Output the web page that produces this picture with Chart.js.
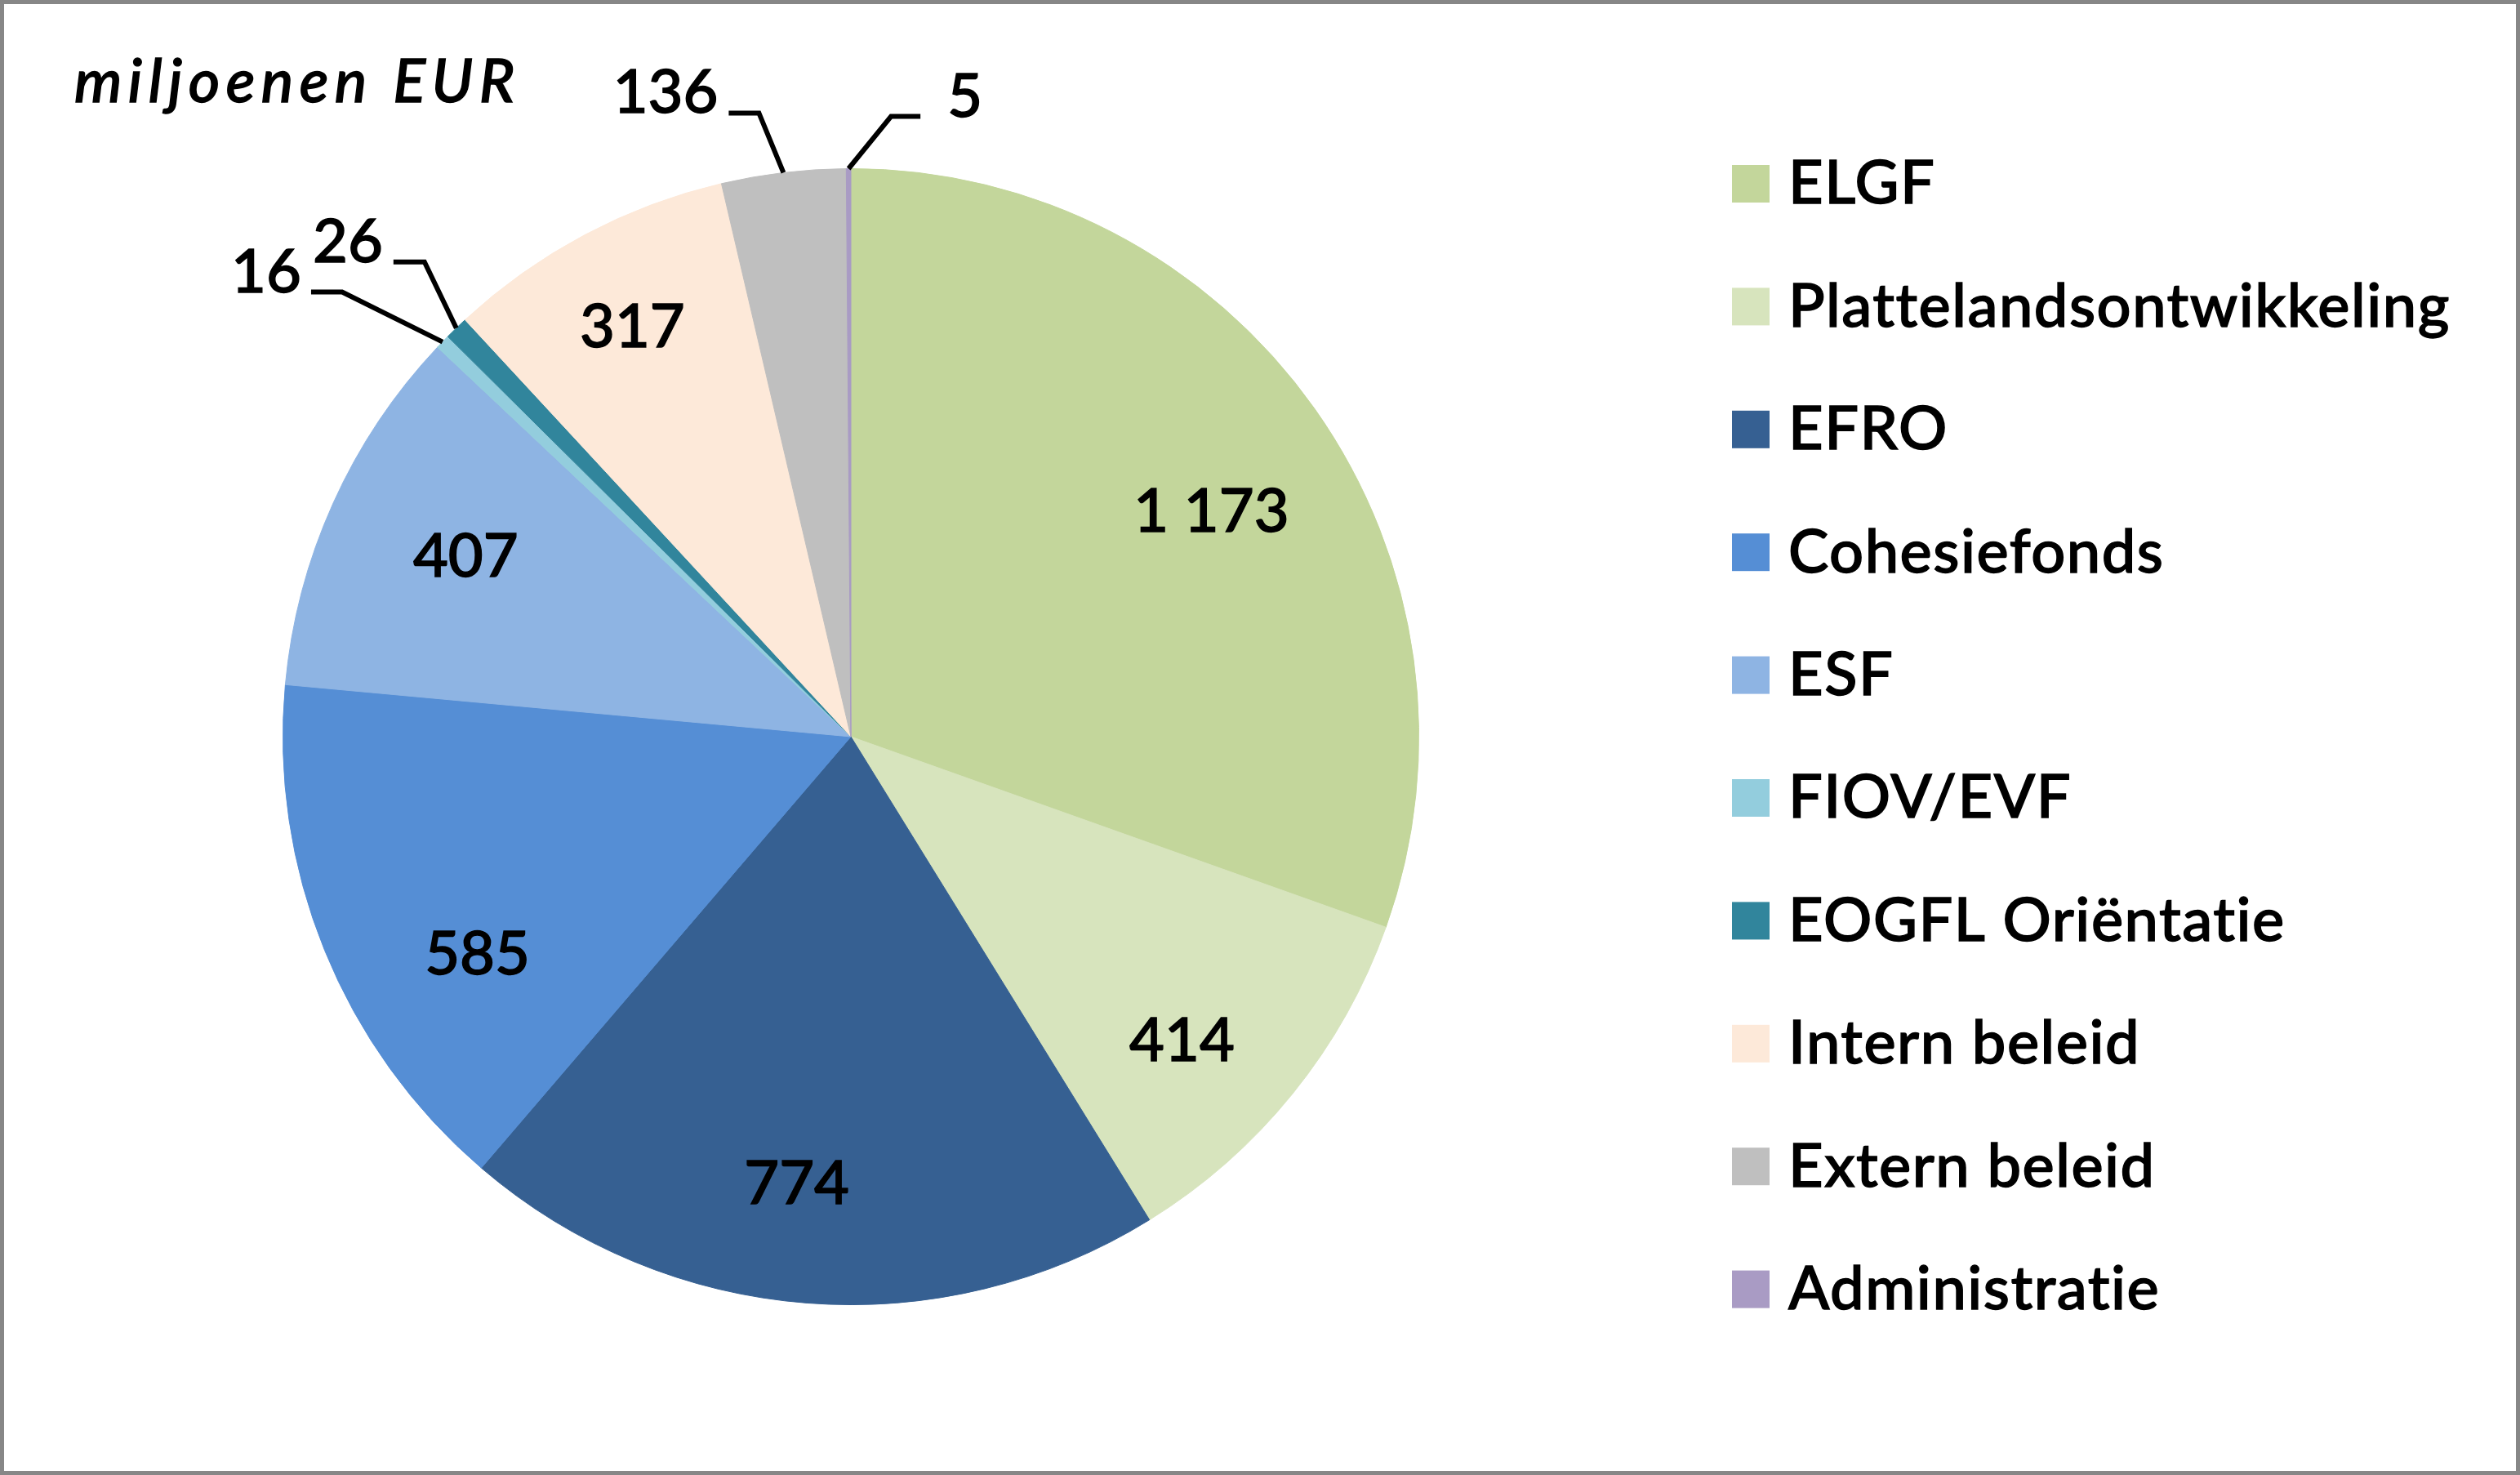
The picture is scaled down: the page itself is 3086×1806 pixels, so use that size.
<!DOCTYPE html>
<html>
<head>
<meta charset="utf-8">
<script src="https://cdn.jsdelivr.net/npm/chart.js@4.4.1/dist/chart.umd.min.js"></script>
<style>
html,body{margin:0;padding:0;background:#fff;overflow:hidden;}
#wrap{position:absolute;left:0;top:0;width:3086px;height:1806px;}
canvas{display:block;}
</style>
</head>
<body>
<div id="wrap"><canvas id="c" width="3086" height="1806"></canvas></div>
<script>
// ---- data ----
const categories = ['ELGF','Plattelandsontwikkeling','EFRO','Cohesiefonds','ESF','FIOV/EVF','EOGFL Oriëntatie','Intern beleid','Extern beleid','Administratie'];
const values = [1173, 414, 774, 585, 407, 16, 26, 317, 136, 5];
const valueLabels = ['1 173','414','774','585','407','16','26','317','136','5'];
const unitLabel = 'miljoenen EUR';

// ---- styles ----
const sliceColors = ['#C3D69B','#D7E4BD','#366092','#558ED5','#8EB4E3','#93CDDD','#31859C','#FDE9D9','#BFBFBF','#A99BC4'];
const FONT_FAMILY = 'Lato, "Open Sans", sans-serif';
const FONT_WEIGHT = '500';
const FONT_PX = 74;
const CAP = 0.716; // cap-height ratio of the font
const TEXT_STROKE = 1.4;

// inside-label placement: fraction of radius, angular tweak (deg, clockwise)
const insideLabel = {
  0: {f: 0.75, d: 3},
  1: {f: 0.79, d: 3.5},
  2: {f: 0.79, d: 2.5},
  3: {f: 0.76, d: -8},
  4: {f: 0.75, d: 1},
  7: {f: 0.82, d: 0}
};
// outside labels with leader lines: elbow offset from arc edge, horizontal run, text gap
const leaderLabel = {
  5: {ex: -123, ey: -61, run: -38, gap: 12},
  6: {ex: -39, ey: -81, run: -38, gap: 13},
  8: {ex: -30, ey: -73, run: -37, gap: 13},
  9: {ex: 52, ey: -64, run: 36, gap: 33}
};

function boldText(ctx, s, x, y) {
  ctx.fillText(s, x, y);
  ctx.strokeText(s, x, y);
}

const framePlugin = {
  id: 'frame',
  beforeDraw(chart) {
    const ctx = chart.ctx;
    ctx.save();
    ctx.fillStyle = '#ffffff';
    ctx.fillRect(0, 0, chart.width, chart.height);
    ctx.restore();
  },
  afterDraw(chart) {
    const ctx = chart.ctx;
    ctx.save();
    ctx.strokeStyle = '#878787';
    ctx.lineWidth = 5;
    ctx.strokeRect(2.5, 2.5, chart.width - 5, chart.height - 5);
    ctx.restore();
  }
};

const labelPlugin = {
  id: 'pieLabels',
  afterDatasetsDraw(chart) {
    const ctx = chart.ctx;
    const meta = chart.getDatasetMeta(0);
    ctx.save();
    ctx.font = FONT_WEIGHT + ' ' + FONT_PX + 'px ' + FONT_FAMILY;
    ctx.fillStyle = '#000';
    ctx.textBaseline = 'alphabetic';
    const half = FONT_PX * CAP / 2;
    meta.data.forEach((arc, i) => {
      const p = arc.getProps(['x','y','startAngle','endAngle','outerRadius'], true);
      const mid = (p.startAngle + p.endAngle) / 2;
      const lbl = chart.data.datasets[0].labelText[i];
      ctx.strokeStyle = '#000';
      if (insideLabel[i]) {
        const c = insideLabel[i];
        const a = mid + c.d * Math.PI / 180;
        const tx = p.x + c.f * p.outerRadius * Math.cos(a);
        const ty = p.y + c.f * p.outerRadius * Math.sin(a);
        ctx.textAlign = 'center';
        ctx.lineWidth = TEXT_STROKE;
        boldText(ctx, lbl, tx, ty + half);
      } else if (leaderLabel[i]) {
        const c = leaderLabel[i];
        const sx = p.x + p.outerRadius * Math.cos(mid);
        const sy = p.y + p.outerRadius * Math.sin(mid);
        const ex = sx + c.ex, ey = sy + c.ey;
        const hx = ex + c.run;
        ctx.beginPath();
        ctx.moveTo(sx, sy);
        ctx.lineTo(ex, ey);
        ctx.lineTo(hx, ey);
        ctx.lineWidth = 6;
        ctx.lineJoin = 'miter';
        ctx.stroke();
        ctx.lineWidth = TEXT_STROKE;
        if (c.run < 0) {
          ctx.textAlign = 'right';
          boldText(ctx, lbl, hx - c.gap, ey);
        } else {
          ctx.textAlign = 'left';
          boldText(ctx, lbl, hx + c.gap, ey);
        }
      }
    });
    ctx.restore();
  }
};

const legendPlugin = {
  id: 'sideLegend',
  afterDraw(chart) {
    const ctx = chart.ctx;
    const ds = chart.data.datasets[0];
    ctx.save();
    ctx.font = FONT_WEIGHT + ' ' + FONT_PX + 'px ' + FONT_FAMILY;
    ctx.letterSpacing = '1.5px';
    ctx.fillStyle = '#000';
    ctx.strokeStyle = '#000';
    ctx.lineWidth = TEXT_STROKE;
    ctx.textAlign = 'left';
    ctx.textBaseline = 'alphabetic';
    const x0 = 2121, box = 46, y0 = 225, step = 150.4, textX = 2190;
    chart.data.labels.forEach((name, i) => {
      const cy = y0 + i * step;
      ctx.fillStyle = ds.backgroundColor[i];
      ctx.fillRect(x0, cy - box / 2, box, box);
      ctx.fillStyle = '#000';
      boldText(ctx, name, textX, cy + FONT_PX * CAP / 2 - 2);
    });
    // unit label
    ctx.font = 'italic ' + FONT_WEIGHT + ' ' + FONT_PX + 'px ' + FONT_FAMILY;
    ctx.letterSpacing = '7.5px';
    boldText(ctx, unitLabel, 91, 125);
    ctx.restore();
  }
};

function draw() {
  new Chart(document.getElementById('c'), {
    type: 'pie',
    data: {
      labels: categories,
      datasets: [{
        data: values,
        labelText: valueLabels,
        backgroundColor: sliceColors,
        borderColor: sliceColors,
        borderWidth: 1
      }]
    },
    options: {
      responsive: false,
      animation: false,
      devicePixelRatio: 1,
      rotation: 0,
      layout: {padding: {top: 206, bottom: 208, left: 346, right: 1348}},
      plugins: {legend: {display: false}, tooltip: {enabled: false}, title: {display: false}}
    },
    plugins: [framePlugin, labelPlugin, legendPlugin]
  });
}

Promise.all([
  document.fonts.load(FONT_WEIGHT + ' ' + FONT_PX + 'px Lato'),
  document.fonts.load('italic ' + FONT_WEIGHT + ' ' + FONT_PX + 'px Lato')
]).then(draw, draw);
</script>
</body>
</html>
